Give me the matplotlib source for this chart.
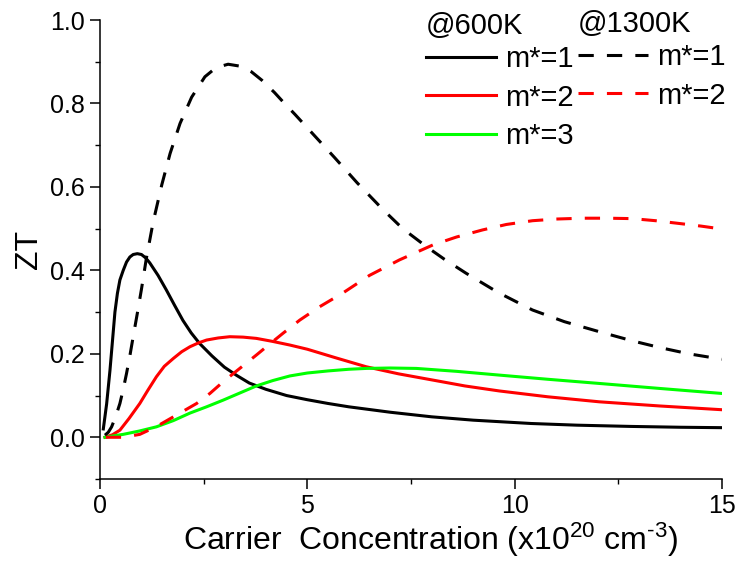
import matplotlib
matplotlib.use("Agg")
import matplotlib.pyplot as plt
from matplotlib.ticker import MultipleLocator, FormatStrFormatter

plt.rcParams['font.family'] = ['Liberation Sans', 'DejaVu Sans']
plt.rcParams['mathtext.fontset'] = 'custom'
plt.rcParams['mathtext.rm'] = 'Liberation Sans'
plt.rcParams['mathtext.it'] = 'Liberation Sans'

# ZT vs carrier concentration (x1e20 cm^-3)
x_600_m1 = [0.08, 0.16, 0.24, 0.30, 0.36, 0.42, 0.48, 0.56, 0.64, 0.72, 0.80, 0.90, 1.00, 1.10,
            1.20, 1.40, 1.60, 1.80, 2.00, 2.20, 2.40, 2.70, 3.00, 3.30, 3.60, 4.00, 4.50, 5.00,
            5.50, 6.00, 7.00, 8.00, 9.00, 10.4, 11.5, 12.8, 14.0, 15.0]
zt_600_m1 = [0.02, 0.08, 0.16, 0.23, 0.30, 0.345, 0.377, 0.40, 0.42, 0.432, 0.438, 0.44, 0.438,
             0.43, 0.418, 0.388, 0.353, 0.316, 0.28, 0.25, 0.225, 0.195, 0.168, 0.148, 0.13,
             0.115, 0.10, 0.09, 0.081, 0.073, 0.06, 0.049, 0.041, 0.033, 0.029, 0.026, 0.024,
             0.023]

x_600_m2 = [0.12, 0.30, 0.48, 0.70, 0.96, 1.15, 1.36, 1.55, 1.77, 1.97, 2.17, 2.37, 2.57, 2.85,
            3.13, 3.45, 3.77, 4.15, 4.58, 5.00, 5.70, 6.42, 7.20, 8.03, 8.80, 9.63, 10.8, 12.04,
            13.5, 15.0]
zt_600_m2 = [0.0, 0.006, 0.017, 0.045, 0.081, 0.112, 0.145, 0.17, 0.189, 0.205, 0.217, 0.226,
             0.233, 0.238, 0.241, 0.24, 0.237, 0.23, 0.221, 0.211, 0.19, 0.169, 0.152, 0.137,
             0.123, 0.111, 0.097, 0.085, 0.075, 0.066]

x_600_m3 = [0.12, 0.56, 0.95, 1.36, 1.77, 2.17, 2.57, 2.97, 3.37, 3.77, 4.17, 4.58, 5.00, 5.50,
            6.00, 6.42, 7.00, 7.63, 8.60, 9.63, 10.8, 12.04, 13.5, 15.0]
zt_600_m3 = [0.0, 0.007, 0.015, 0.025, 0.04, 0.058, 0.073, 0.089, 0.106, 0.123, 0.136, 0.147,
             0.154, 0.159, 0.163, 0.165, 0.166, 0.165, 0.158, 0.149, 0.139, 0.129, 0.117, 0.105]

x_1300_m1 = [0.12, 0.20, 0.28, 0.38, 0.48, 0.56, 0.64, 0.72, 0.80, 0.90, 1.00, 1.12, 1.28, 1.49,
             1.69, 1.93, 2.21, 2.53, 2.80, 3.09, 3.40, 3.65, 3.90, 4.21, 4.45, 4.70, 5.18, 5.66,
             6.20, 6.82, 7.30, 7.87, 8.30, 8.83, 9.60, 10.43, 11.2, 12.04, 12.84, 13.5, 14.2,
             15.0]
zt_1300_m1 = [0.005, 0.012, 0.025, 0.05, 0.081, 0.115, 0.153, 0.195, 0.241, 0.297, 0.355, 0.43,
              0.515, 0.605, 0.68, 0.752, 0.815, 0.864, 0.886, 0.894, 0.889, 0.876, 0.856, 0.826,
              0.80, 0.774, 0.722, 0.67, 0.61, 0.546, 0.50, 0.457, 0.427, 0.393, 0.347, 0.305,
              0.277, 0.253, 0.231, 0.215, 0.20, 0.187]

x_1300_m2 = [0.14, 0.56, 0.96, 1.35, 1.77, 2.33, 2.65, 2.97, 3.37, 3.77, 4.10, 4.41, 4.82, 5.30,
             5.86, 6.50, 7.22, 8.03, 8.60, 9.23, 9.80, 10.43, 11.0, 11.64, 12.24, 12.84, 13.4,
             14.0, 14.5, 15.0]
zt_1300_m2 = [0.0, 0.0, 0.007, 0.025, 0.049, 0.081, 0.105, 0.133, 0.165, 0.197, 0.224, 0.249,
              0.281, 0.313, 0.346, 0.388, 0.425, 0.461, 0.48, 0.497, 0.51, 0.519, 0.523, 0.525,
              0.525, 0.524, 0.519, 0.512, 0.506, 0.499]

labels_600 = ["m*=1", "m*=2", "m*=3"]
labels_1300 = ["m*=1", "m*=2"]

W, H = 739, 565
fig = plt.figure(figsize=(W / 100, H / 100), dpi=100)
ax = fig.add_axes([100 / W, 1 - 479 / H, 622 / W, 459 / H])

lw = 2.2
dash = (0, (5.0, 4.3))
l1, = ax.plot(x_600_m1, zt_600_m1, color='black', lw=lw)
l2, = ax.plot(x_600_m2, zt_600_m2, color='#ff0000', lw=lw)
l3, = ax.plot(x_600_m3, zt_600_m3, color='#00ff00', lw=lw)
d1, = ax.plot(x_1300_m1, zt_1300_m1, color='black', lw=lw, linestyle=dash)
d2, = ax.plot(x_1300_m2, zt_1300_m2, color='#ff0000', lw=lw, linestyle=dash)

ax.set_xlim(0, 15)
ax.set_ylim(-0.1, 1.0)
ax.xaxis.set_major_locator(MultipleLocator(5))
ax.xaxis.set_minor_locator(MultipleLocator(2.5))
ax.yaxis.set_minor_locator(MultipleLocator(0.1))
ax.set_yticks([0.0, 0.2, 0.4, 0.6, 0.8, 1.0])
ax.yaxis.set_major_formatter(FormatStrFormatter('%.1f'))

for s in ['top', 'right']:
    ax.spines[s].set_visible(False)
for s in ['left', 'bottom']:
    ax.spines[s].set_linewidth(1.1)
ax.tick_params(which='major', direction='out', length=7, width=1.1, labelsize=18, pad=4)
ax.tick_params(which='minor', direction='out', length=3.5, width=1.0)

ax.set_ylabel('ZT', fontsize=23, labelpad=4)
ax.set_xlabel('Carrier  Concentration (x10$^{20}$ cm$^{\u20103}$)', fontsize=23)
ax.xaxis.set_label_coords((431 - 100) / 622, -(540 - 479) / 459)
ax.xaxis.label.set_va('center')

common = dict(frameon=False, fontsize=21, title_fontsize=21, handlelength=2.4,
              handletextpad=0.3, labelspacing=0.37, borderpad=0, borderaxespad=0,
              alignment='left', loc='upper left', bbox_transform=fig.transFigure)
leg1 = ax.legend([l1, l2, l3], labels_600, title='@600K',
                 bbox_to_anchor=(426 / W, 1 - 12 / H), **common)
leg1._legend_box.sep = 3.4
ax.add_artist(leg1)
leg2 = ax.legend([d1, d2], labels_1300, title='@1300K',
                 bbox_to_anchor=(578 / W, 1 - 10 / H), **common)
leg2._legend_box.sep = 3.4

fig.savefig('out.png', dpi=100)
